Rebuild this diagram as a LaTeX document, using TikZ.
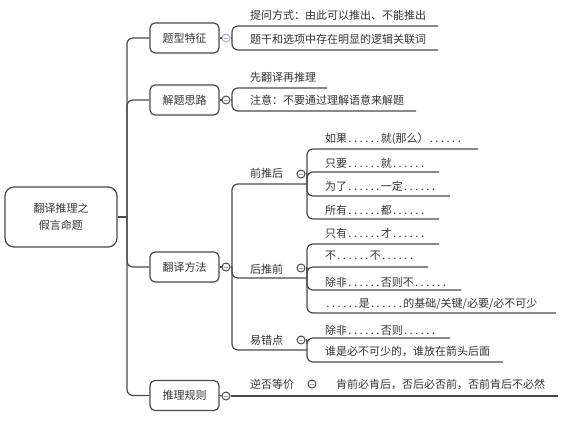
\documentclass[tikz,border=0pt]{standalone}
\usepackage{fontspec}
\setmainfont{Noto Sans CJK SC}
\definecolor{txt}{HTML}{333333}
\definecolor{ln}{HTML}{4A4A4A}
\definecolor{btn}{HTML}{9DB0D6}
\definecolor{minus}{HTML}{A0A0A0}
\newcommand\dt{\makebox[5.6pt][c]{.}}
\newcommand\sixd{\dt\dt\dt\dt\dt\dt}
\tikzset{
  every node/.style={font=\fontsize{11}{13}\selectfont, text=txt},
  lbl/.style={anchor=west, inner sep=0pt},
  topic/.style={draw=ln, line width=1.2pt, rounded corners=5pt, fill=white,
    minimum width=69pt, minimum height=30pt, inner sep=0pt},
  rootbox/.style={draw=ln, line width=1.2pt, rounded corners=9pt, fill=white,
    minimum width=112pt, minimum height=60pt, inner sep=0pt, align=center,
    font=\fontsize{11}{17}\selectfont},
  link/.style={draw=ln, line width=1.2pt},
  brk/.style={link, rounded corners=6pt},
  tog/.style={circle, draw=ln, line width=1pt, fill=white, minimum size=8pt, inner sep=0pt,
    path picture={\draw[minus, line width=0.7pt]
      ([xshift=-2pt]path picture bounding box.center) -- ([xshift=2pt]path picture bounding box.center);}},
  togb/.style={tog, draw=btn, path picture={\draw[btn, line width=0.7pt]
      ([xshift=-2pt]path picture bounding box.center) -- ([xshift=2pt]path picture bounding box.center);}},
}
\begin{document}
\begin{tikzpicture}[x=1pt,y=-1pt]
\useasboundingbox (0,0) rectangle (570,423);

% root and main topics
\node[rootbox] (root) at (61,217) {翻译推理之\\假言命题};
\coordinate (trunk) at (127,217);
\draw[link] (root.east) -- (trunk);

\node[topic] (t1) at (184.5,38) {题型特征};
\node[topic] (t2) at (184.5,100) {解题思路};
\node[topic] (t3) at (184.5,267) {翻译方法};
\node[topic] (t4) at (184.5,395.5) {推理规则};
\foreach \t in {t1,t2,t3,t4} \draw[brk] (trunk) |- (\t.west);

\node[togb] (g1) at (226,38) {};
\node[tog] (g2) at (226,100) {};
\node[tog] (g3) at (226,267) {};
\node[tog] (g4) at (226,396) {};
\foreach \i in {1,2,3,4} \draw[link] (t\i.east) -- (g\i.west);

% 题型特征
\coordinate (b1) at (232,38);
\draw[link] (g1.east) -- (b1);
\node[lbl] (a1) at (250,15) {提问方式：由此可以推出、不能推出};
\node[lbl] (a2) at (250,39) {题干和选项中存在明显的逻辑关联词};
\coordinate (a1e) at (438,26);
\coordinate (a2e) at (438,50);
\draw[brk] (b1) |- (a1e);
\draw[brk] (b1) |- (a2e);

% 解题思路
\coordinate (b2) at (232,100);
\draw[link] (g2.east) -- (b2);
\node[lbl] (s1) at (250,77) {先翻译再推理};
\node[lbl] (s2) at (250,100) {注意：不要通过理解语意来解题};
\coordinate (s1e) at (327,88);
\coordinate (s2e) at (416,111);
\draw[brk] (b2) |- (s1e);
\draw[brk] (b2) |- (s2e);

% 翻译方法
\coordinate (b3) at (232,267);
\draw[link] (g3.east) -- (b3);
\node[lbl] (f1) at (250,173) {前推后};
\node[lbl] (f2) at (250,269) {后推前};
\node[lbl] (f3) at (250,340) {易错点};
\coordinate (f1e) at (307,184);
\coordinate (f2e) at (307,278);
\coordinate (f3e) at (307,350);
\draw[brk] (b3) |- (f1e);
\draw[brk] (b3) |- (f2e);
\draw[brk] (b3) |- (f3e);

\node[tog] (h1) at (301,174) {};
\node[tog] (h2) at (301,268) {};
\node[tog] (h3) at (301,340) {};
\coordinate (c1) at (307,174);
\coordinate (c2) at (307,268);
\coordinate (c3) at (307,340);
\foreach \i in {1,2,3} \draw[link] (h\i.east) -- (c\i);

% 前推后 children
\node[lbl] (p1) at (325,139) {如果\sixd 就(那么）\sixd};
\node[lbl] (p2) at (325,163) {只要\sixd 就\sixd};
\node[lbl] (p3) at (325,186) {为了\sixd 一定\sixd};
\node[lbl] (p4) at (325,210) {所有\sixd 都\sixd};
\coordinate (p1e) at (478,149);
\coordinate (p2e) at (439,172);
\coordinate (p3e) at (450,196);
\coordinate (p4e) at (439,219);
\foreach \i in {1,2,3,4} \draw[brk] (c1) |- (p\i e);

% 后推前 children
\node[lbl] (q1) at (325,233) {只有\sixd 才\sixd};
\node[lbl] (q2) at (325,256) {不\sixd 不\sixd};
\node[lbl] (q3) at (325,282) {除非\sixd 否则不\sixd};
\node[lbl] (q4) at (325,304) {\sixd 是\sixd 的基础/关键/必要/必不可少};
\coordinate (q1e) at (439,244);
\coordinate (q2e) at (428,267);
\coordinate (q3e) at (461,290);
\coordinate (q4e) at (556,313);
\foreach \i in {1,2,3,4} \draw[brk] (c2) |- (q\i e);

% 易错点 children
\node[lbl] (r1) at (325,330) {除非\sixd 否则\sixd};
\node[lbl] (r2) at (325,351) {谁是必不可少的，谁放在箭头后面};
\coordinate (r1e) at (450,338);
\coordinate (r2e) at (503,362);
\foreach \i in {1,2} \draw[brk] (c3) |- (r\i e);

% 推理规则
\node[lbl] (n1) at (250,384) {逆否等价};
\node[tog] (h4) at (312,384) {};
\node[lbl] (n2) at (336,384) {肯前必肯后，否后必否前，否前肯后不必然};
\coordinate (n1e) at (324,396);
\coordinate (n2e) at (558,396);
\draw[link] (g4.east) -- (n1e);
\draw[link] (n1e) -- (n2e);
\end{tikzpicture}
\end{document}
